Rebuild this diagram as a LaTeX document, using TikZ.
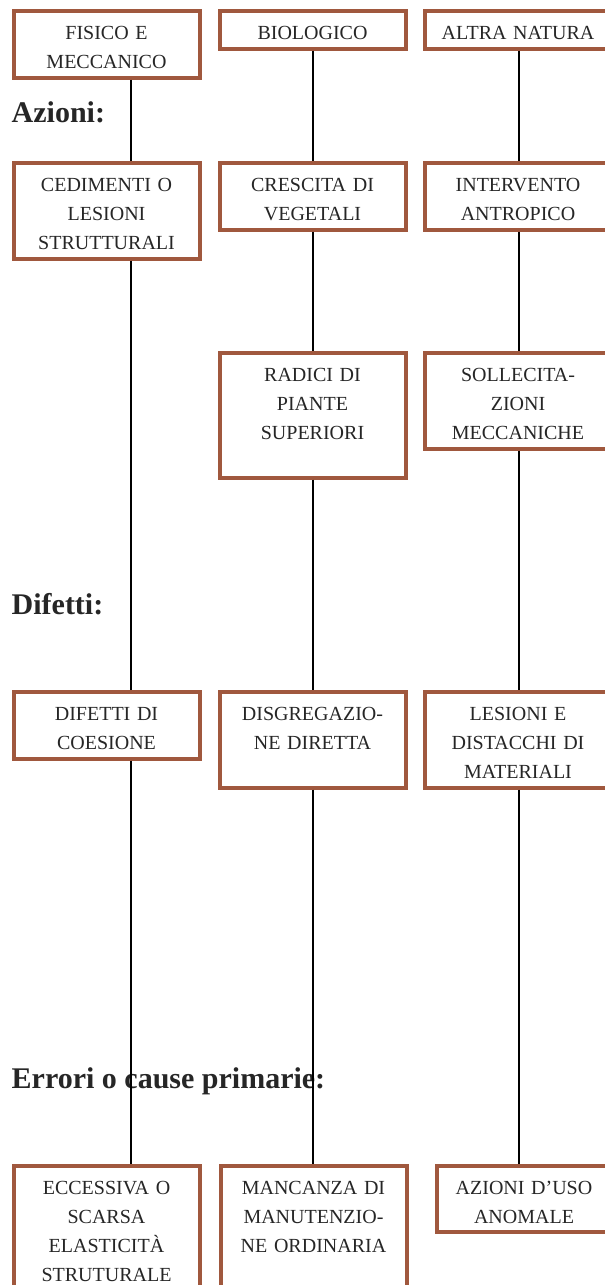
\documentclass[tikz,border=0pt]{standalone}
\usepackage{fontspec}
\setmainfont{Liberation Serif}

\definecolor{boxbrown}{RGB}{160,88,62}
\definecolor{inkgray}{RGB}{38,38,38}

\begin{document}
\begin{tikzpicture}[x=1pt,y=-1pt,
    box/.style={draw=boxbrown, line width=4pt, fill=white, text=inkgray,
        font={\fontsize{20pt}{29pt}\selectfont}, align=center, text width=186pt,
        inner xsep=0pt, inner ysep=0pt, text height=28.5pt, anchor=north},
    heading/.style={anchor=base west, inner sep=0pt, text=inkgray,
        font={\fontsize{30pt}{36pt}\selectfont\bfseries}},
    link/.style={line width=2pt, black}]

    % --- Page frame ---
    \useasboundingbox (0,0) rectangle (605,1285);
    \clip (0,0) rectangle (605,1285);
    \fill[white] (0,0) rectangle (605,1285);

    % --- Column axes ---
    \coordinate (axisA) at (131,0);
    \coordinate (axisB) at (313,0);
    \coordinate (axisC) at (519,0);

    % --- Natura ---
    \node[box, text depth=38pt] (fisico) at (106.5,9) {FISICO E\\MECCANICO};
    \node[box, text depth=9pt] (bio) at (312.5,9) {BIOLOGICO};
    \node[box, text depth=9pt] (altra) at (518,9) {ALTRA NATURA};

    % --- Azioni ---
    \node[heading] (azioni) at (11.5,122) {Azioni:};
    \node[box, text depth=67pt] (cedimenti) at (106.5,161) {CEDIMENTI O\\LESIONI\\STRUTTURALI};
    \node[box, text depth=38pt] (crescita) at (312.5,161) {CRESCITA DI\\VEGETALI};
    \node[box, text depth=38pt] (intervento) at (518,161) {INTERVENTO\\ANTROPICO};

    \node[box, text depth=96pt] (radici) at (312.5,351) {RADICI DI\\PIANTE\\SUPERIORI};
    \node[box, text depth=67pt] (sollecit) at (518,351) {SOLLECITA-\\ZIONI\\MECCANICHE};

    % --- Difetti ---
    \node[heading] (difetti) at (11.5,614) {Difetti:};
    \node[box, text depth=38pt] (coesione) at (106.5,690) {DIFETTI DI\\COESIONE};
    \node[box, text depth=67pt] (disgreg) at (312.5,690) {DISGREGAZIO-\\NE DIRETTA};
    \node[box, text depth=67pt] (distacchi) at (518,690) {LESIONI E\\DISTACCHI DI\\MATERIALI};

    % --- Errori o cause primarie ---
    \node[heading] (errori) at (11.5,1088) {Errori o cause primarie:};
    \node[box, text depth=160pt] (elastic) at (106.5,1163.5) {ECCESSIVA O\\SCARSA\\ELASTICITÀ\\STRUTURALE};
    \node[box, text depth=160pt] (manut) at (313.5,1163.5) {MANCANZA DI\\MANUTENZIO-\\NE ORDINARIA};
    \node[box, text depth=38pt, text width=174.5pt] (uso) at (524,1163.5) {AZIONI D’USO\\ANOMALE};

    % --- Chains ---
    \draw[link] (fisico.south -| axisA) -- (cedimenti.north -| axisA);
    \draw[link] (cedimenti.south -| axisA) -- (coesione.north -| axisA);
    \draw[link] (coesione.south -| axisA) -- (elastic.north -| axisA);

    \draw[link] (bio.south -| axisB) -- (crescita.north -| axisB);
    \draw[link] (crescita.south -| axisB) -- (radici.north -| axisB);
    \draw[link] (radici.south -| axisB) -- (disgreg.north -| axisB);
    \draw[link] (disgreg.south -| axisB) -- (manut.north -| axisB);

    \draw[link] (altra.south -| axisC) -- (intervento.north -| axisC);
    \draw[link] (intervento.south -| axisC) -- (sollecit.north -| axisC);
    \draw[link] (sollecit.south -| axisC) -- (distacchi.north -| axisC);
    \draw[link] (distacchi.south -| axisC) -- (uso.north -| axisC);

\end{tikzpicture}
\end{document}
